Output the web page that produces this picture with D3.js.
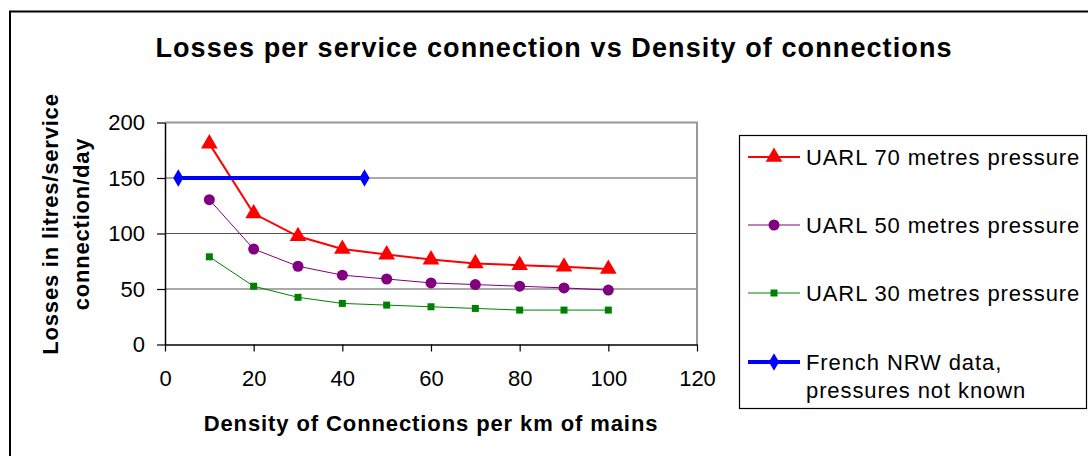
<!DOCTYPE html>
<html>
<head>
<meta charset="utf-8">
<script src="https://cdn.jsdelivr.net/npm/d3@7"></script>
<style>
  body { margin: 0; background: #fff; }
  svg { display: block; font-family: "Liberation Sans", Arial, sans-serif; }
</style>
</head>
<body>
<div id="chart-wrapper"></div>
<script>
// data
var density = [10, 20, 30, 40, 50, 60, 70, 80, 90, 100];
var uarl70 = [181, 118, 97.5, 86, 81, 76.5, 73, 71.5, 70, 68];
var uarl50 = [130.5, 86, 70.5, 62.5, 59, 55.5, 54, 52.5, 51, 49];
var uarl30 = [79, 52.5, 42.5, 37, 35.5, 34, 32.5, 31, 31, 31];
var frenchX = [3, 45];
var frenchY = [150, 150];
var xTicks = [0, 20, 40, 60, 80, 100, 120];
var yTicks = [0, 50, 100, 150, 200];
var seriesNames = ["UARL 70 metres pressure", "UARL 50 metres pressure",
                   "UARL 30 metres pressure", "French NRW data,|pressures not known"];

var W = 1088, H = 456;
var margin = {top: 122.5, right: 391, bottom: 111.5, left: 165},
    width = W - margin.left - margin.right,
    height = H - margin.top - margin.bottom;

var root = d3.select("#chart-wrapper")
  .append("svg")
    .attr("width", W)
    .attr("height", H);

// outer chart frame (runs off the right and bottom edge)
root.append("rect")
  .attr("x", 10).attr("y", 11.5)
  .attr("width", W + 20).attr("height", H + 20)
  .attr("fill", "none").attr("stroke", "#000").attr("stroke-width", 2);

root.append("text")
  .attr("x", 554).attr("y", 57)
  .attr("text-anchor", "middle")
  .style("font-size", "27px").style("font-weight", "bold")
  .style("letter-spacing", "1.1px")
  .text("Losses per service connection vs Density of connections");

var svg = root.append("g")
  .attr("transform", `translate(${margin.left},${margin.top})`);

var x = d3.scaleLinear().domain([0, 120]).range([0, width]);
var y = d3.scaleLinear().domain([0, 200]).range([height, 0]);

// gridlines
svg.selectAll("grid")
  .data(yTicks.filter(d => d > 0 && d < 200))
  .enter().append("line")
  .attr("x1", 0).attr("x2", width)
  .attr("y1", d => y(d)).attr("y2", d => y(d))
  .attr("stroke", "#555").attr("stroke-width", 1.2);

// plot frame top/right
svg.append("path")
  .attr("d", `M0,${y(200)}H${width}V${height}`)
  .attr("fill", "none").attr("stroke", "#999").attr("stroke-width", 2);

// axes
var xAxis = svg.append("g")
  .attr("transform", `translate(0,${height})`)
  .call(d3.axisBottom(x).tickValues(xTicks).tickSize(7).tickSizeOuter(0).tickPadding(19));
var yAxis = svg.append("g")
  .call(d3.axisLeft(y).tickValues(yTicks).tickSize(8).tickSizeOuter(0).tickPadding(12));
[xAxis, yAxis].forEach(function (a) {
  a.select(".domain").attr("stroke", "#000").attr("stroke-width", 1.5);
  a.selectAll(".tick line").attr("stroke", "#000").attr("stroke-width", 1.2);
  a.selectAll("text")
    .style("font-size", "22px")
    .style("font-family", "'Liberation Sans', Arial, sans-serif")
    .attr("fill", "#000");
});

// axis titles
root.append("text")
  .attr("x", 431).attr("y", 431)
  .attr("text-anchor", "middle")
  .style("font-size", "22px").style("font-weight", "bold")
  .style("letter-spacing", "0.9px")
  .text("Density of Connections per km of mains");

var yTitle = root.append("text")
  .attr("transform", "translate(58,224) rotate(-90)")
  .attr("text-anchor", "middle")
  .style("font-size", "22px").style("font-weight", "bold")
  .style("letter-spacing", "0.8px");
yTitle.append("tspan").attr("x", 0).attr("dy", 0).text("Losses in litres/service");
yTitle.append("tspan").attr("x", 0).attr("dy", 31).text("connection/day");

// series
var series = [
  {name: seriesNames[0], xs: density, ys: uarl70, color: "#ff0000", lw: 2, sym: d3.symbolTriangle, size: 120},
  {name: seriesNames[1], xs: density, ys: uarl50, color: "#800080", lw: 1, sym: d3.symbolCircle, size: 95},
  {name: seriesNames[2], xs: density, ys: uarl30, color: "#008000", lw: 1, sym: d3.symbolSquare, size: 49},
  {name: seriesNames[3], xs: frenchX, ys: frenchY, color: "#0000ff", lw: 4, sym: d3.symbolDiamond, size: 90}
];

var line = d3.line().x(d => x(d[0])).y(d => y(d[1]));

series.forEach(function (s) {
  var pts = s.xs.map((v, i) => [v, s.ys[i]]);
  svg.append("path")
    .datum(pts)
    .attr("d", line)
    .attr("fill", "none")
    .attr("stroke", s.color)
    .attr("stroke-width", s.lw);
  svg.selectAll(null)
    .data(pts)
    .enter().append("path")
    .attr("transform", d => `translate(${x(d[0])},${y(d[1])})`)
    .attr("d", d3.symbol().type(s.sym).size(s.size))
    .attr("fill", s.color);
});

// legend
var legend = root.append("g");
legend.append("rect")
  .attr("x", 739.5).attr("y", 135.5)
  .attr("width", 347).attr("height", 273)
  .attr("fill", "#fff").attr("stroke", "#000").attr("stroke-width", 1.2);

var rowY = [157, 225, 293, 362];
series.forEach(function (s, i) {
  var g = legend.append("g").attr("transform", `translate(0,${rowY[i]})`);
  g.append("line")
    .attr("x1", 748).attr("x2", 800)
    .attr("stroke", s.color).attr("stroke-width", s.lw);
  g.append("path")
    .attr("transform", "translate(774,0)")
    .attr("d", d3.symbol().type(s.sym).size(s.size))
    .attr("fill", s.color);
  var t = g.append("text")
    .attr("x", 806).attr("y", 8)
    .style("font-size", "22px")
    .style("letter-spacing", "0.9px");
  s.name.split("|").forEach(function (part, j) {
    t.append("tspan").attr("x", 806).attr("dy", j ? 28 : 0).text(part);
  });
});
</script>
</body>
</html>
